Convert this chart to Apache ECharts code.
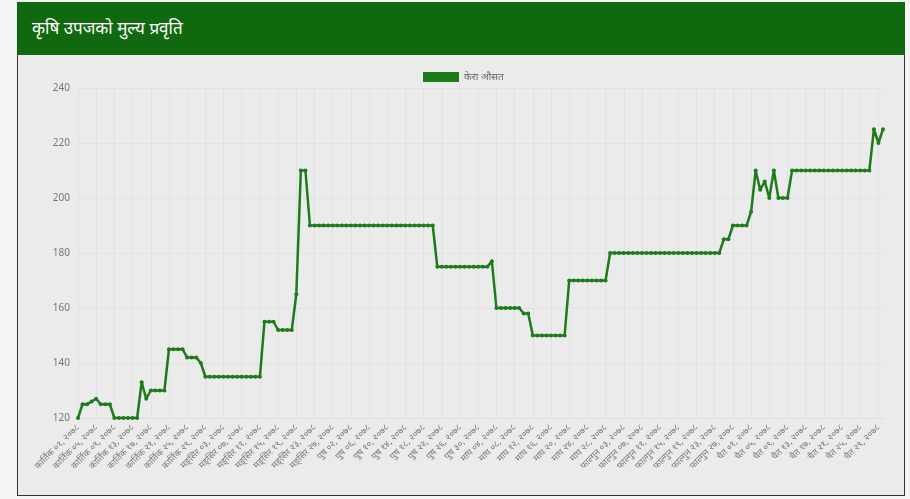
<!DOCTYPE html>
<html>
<head>
<meta charset="utf-8">
<script src="https://cdn.jsdelivr.net/npm/echarts@6/dist/echarts.min.js"></script>
<style>
  html, body { margin: 0; padding: 0; width: 910px; height: 499px; background: #f4f4f4; overflow: hidden; }
  #header { position: absolute; left: 17px; top: 2px; width: 888px; height: 53px; background: #11690f; }
  #header span { position: absolute; left: 15px; top: 14px; color: #fff; font-size: 17px; font-family: "Noto Sans", sans-serif; }
  #panel { position: absolute; left: 17px; top: 55px; width: 886px; height: 440px; background: #ebebeb; border: 1px solid #333; border-top: none; }
  #chart { position: absolute; left: 0; top: 0; width: 910px; height: 499px; }
</style>
</head>
<body>
<div id="header"><span>कृषि उपजको मुल्य प्रवृति</span></div>
<div id="panel"></div>
<div id="chart"></div>
<script>
// महिना र दिन (२०७८)
var months = ['कार्तिक', 'मङ्सिर', 'पुष', 'माघ', 'फाल्गुन', 'चैत'];
var monthDays = [30, 29, 30, 29, 30, 30];
var yTicks = [120, 140, 160, 180, 200, 220, 240];
var seriesName = 'केरा औसत';

// केरा औसत मूल्य (दैनिक)
var bananaAvg = [
    120, 125, 125, 126, 127, 125, 125, 125, 120, 120,
    120, 120, 120, 120, 133, 127, 130, 130, 130, 130,
    145, 145, 145, 145, 142, 142, 142, 140, 135, 135,
    135, 135, 135, 135, 135, 135, 135, 135, 135, 135,
    135, 155, 155, 155, 152, 152, 152, 152, 165, 210,
    210, 190, 190, 190, 190, 190, 190, 190, 190, 190,
    190, 190, 190, 190, 190, 190, 190, 190, 190, 190,
    190, 190, 190, 190, 190, 190, 190, 190, 190, 175,
    175, 175, 175, 175, 175, 175, 175, 175, 175, 175,
    175, 177, 160, 160, 160, 160, 160, 160, 158, 158,
    150, 150, 150, 150, 150, 150, 150, 150, 170, 170,
    170, 170, 170, 170, 170, 170, 170, 180, 180, 180,
    180, 180, 180, 180, 180, 180, 180, 180, 180, 180,
    180, 180, 180, 180, 180, 180, 180, 180, 180, 180,
    180, 180, 185, 185, 190, 190, 190, 190, 195, 210,
    203, 206, 200, 210, 200, 200, 200, 210, 210, 210,
    210, 210, 210, 210, 210, 210, 210, 210, 210, 210,
    210, 210, 210, 210, 210, 225, 220, 225
];

function toNepaliDigits(s) {
    var d = '०१२३४५६७८९';
    return String(s).replace(/[0-9]/g, function(c) { return d[+c]; });
}

var dates = [];
for (var m = 0; m < months.length; m++) {
    for (var d = 1; d <= monthDays[m]; d++) {
        dates.push(months[m] + ' ' + toNepaliDigits(d < 10 ? '0' + d : d) + ', ' + toNepaliDigits(2078));
    }
}

var chart = echarts.init(document.getElementById('chart'));
chart.setOption({
    animation: false,
    textStyle: { fontFamily: '"Noto Sans", sans-serif' },
    legend: {
        data: [seriesName],
        top: 67,
        left: 418,
        itemWidth: 36,
        itemHeight: 10,
        itemGap: 4,
        icon: 'rect',
        textStyle: { color: '#666', fontSize: 10 }
    },
    grid: { left: 78, right: 27, top: 88, bottom: 81 },
    xAxis: {
        type: 'category',
        data: dates,
        boundaryGap: false,
        axisLine: { lineStyle: { color: '#dcdcdc' } },
        axisTick: { show: false },
        axisLabel: { interval: 3, rotate: 45, color: '#777', fontSize: 9, margin: 8 },
        splitLine: { show: true, interval: 3, lineStyle: { color: '#e2e2e2' } }
    },
    yAxis: {
        type: 'value',
        min: yTicks[0],
        max: yTicks[yTicks.length - 1],
        interval: 20,
        axisLine: { show: false },
        axisTick: { show: false },
        axisLabel: { color: '#777', fontSize: 10, margin: 8 },
        splitLine: { lineStyle: { color: '#e2e2e2' } }
    },
    series: [{
        name: seriesName,
        type: 'line',
        data: bananaAvg,
        color: '#1e7b1a',
        lineStyle: { width: 2.5, color: '#1e7b1a' },
        symbol: 'circle',
        symbolSize: 4,
        showAllSymbol: true,
        itemStyle: { color: '#1e7b1a' }
    }]
});
</script>
</body>
</html>
